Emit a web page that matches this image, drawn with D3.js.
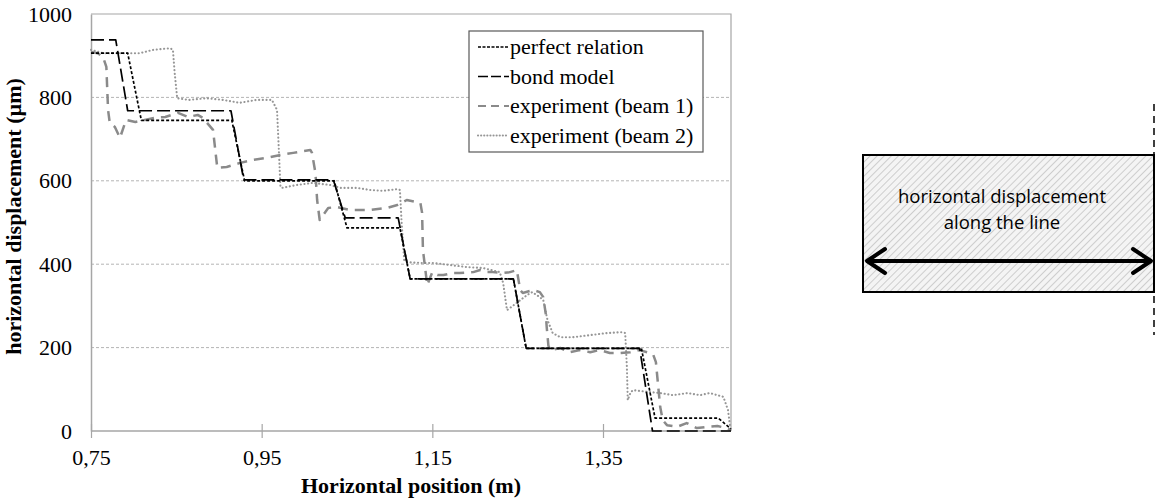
<!DOCTYPE html>
<html>
<head>
<meta charset="utf-8">
<script src="https://cdn.jsdelivr.net/npm/d3@7"></script>
<style>
  html, body { margin: 0; padding: 0; background: #fff; }
  svg { display: block; }
</style>
</head>
<body>
<svg id="chart" width="1160" height="498"></svg>
<script>
// ---------------- data ----------------
const xTicks = [0.75, 0.95, 1.15, 1.35];
const yTicks = [0, 200, 400, 600, 800, 1000];
const gridValues = [200, 400, 600, 800];

const seriesNames = ["perfect relation", "bond model", "experiment (beam 1)", "experiment (beam 2)"];

const perfectX = [0.75, 0.793, 0.809, 0.915, 0.930, 1.035, 1.050, 1.112, 1.124, 1.245, 1.260, 1.395, 1.411, 1.485, 1.500];
const perfectY = [906, 906, 745, 745, 600, 600, 487, 487, 365, 365, 198, 198, 31, 31, 5];

const bondX = [0.75, 0.779, 0.793, 0.914, 0.929, 1.034, 1.048, 1.110, 1.124, 1.245, 1.260, 1.393, 1.408, 1.500];
const bondY = [938, 938, 768, 768, 602, 602, 511, 511, 365, 365, 198, 198, 0, 0];

const beam1X = [0.75, 0.758, 0.764, 0.768, 0.770, 0.772, 0.778, 0.784, 0.791, 0.802, 0.813, 0.825, 0.837, 0.852, 0.864, 0.875, 0.881,
  0.893, 0.898, 0.909, 0.925, 0.940, 0.956, 0.972, 0.987, 1.007, 1.009, 1.013, 1.015, 1.018, 1.028, 1.038, 1.054, 1.077, 1.097,
  1.109, 1.120, 1.136, 1.138, 1.139, 1.144, 1.150, 1.156, 1.163, 1.174, 1.182, 1.198, 1.206, 1.214, 1.221, 1.233, 1.241, 1.249,
  1.253, 1.256, 1.268, 1.276, 1.280, 1.283, 1.284, 1.286, 1.288, 1.300, 1.311, 1.323, 1.335, 1.346, 1.358, 1.370, 1.382, 1.393,
  1.405, 1.409, 1.412, 1.417, 1.420, 1.425, 1.437, 1.448, 1.460, 1.472, 1.484, 1.495, 1.500];
const beam1Y = [909, 906, 897, 873, 770, 739, 729, 703, 746, 741, 746, 751, 753, 763, 753, 758, 751,
  722, 631, 633, 643, 650, 655, 662, 667, 674, 667, 619, 554, 506, 535, 537, 530, 530, 535,
  542, 554, 547, 523, 434, 350, 381, 374, 374, 379, 379, 381, 386, 381, 381, 379, 381, 386,
  338, 331, 338, 333, 321, 280, 250, 205, 194, 199, 189, 194, 189, 194, 187, 187, 189, 194,
  187, 182, 165, 58, 26, 14, 10, 19, 7, 10, 12, 7, 2];

const beam2X = [0.75, 0.764, 0.792, 0.807, 0.823, 0.843, 0.846, 0.848, 0.851, 0.865, 0.885, 0.905, 0.924, 0.944, 0.962, 0.968,
  0.970, 0.972, 0.974, 0.991, 1.010, 1.030, 1.042, 1.062, 1.077, 1.092, 1.109, 1.112, 1.114, 1.117, 1.120, 1.136, 1.151, 1.171,
  1.191, 1.209, 1.229, 1.233, 1.2375, 1.241, 1.250, 1.261, 1.267, 1.276, 1.280, 1.285, 1.291, 1.300, 1.315, 1.335, 1.355, 1.372,
  1.376, 1.378, 1.379, 1.382, 1.385, 1.402, 1.417, 1.432, 1.449, 1.464, 1.475, 1.491, 1.4965, 1.499];
const beam2Y = [914, 906, 906, 906, 914, 918, 914, 860, 798, 794, 798, 794, 787, 794, 794, 770,
  680, 585, 583, 590, 595, 590, 583, 583, 578, 576, 580, 578, 500, 410, 405, 403, 403, 398,
  393, 391, 381, 355, 290, 295, 309, 326, 333, 321, 314, 266, 235, 225, 225, 230, 235, 237,
  235, 153, 74, 91, 98, 94, 91, 86, 91, 86, 91, 82, 50, 10];

// ---------------- drawing ----------------
const svg = d3.select("#chart");
const plot = { left: 91, right: 731, top: 14, bottom: 431 };

const x = d3.scaleLinear().domain([0.75, 1.5]).range([plot.left, plot.right]);
const y = d3.scaleLinear().domain([0, 1000]).range([plot.bottom, plot.top]);

const serif = "'Liberation Serif', 'Times New Roman', serif";
const axisGray = "#a6a6a6";

// gridlines
svg.append("g").selectAll("line").data(gridValues).join("line")
  .attr("x1", plot.left).attr("x2", plot.right)
  .attr("y1", d => y(d)).attr("y2", d => y(d))
  .attr("stroke", "#b4b4b4").attr("stroke-width", 1).attr("stroke-dasharray", "3,2");

// plot border (top & right)
svg.append("path")
  .attr("d", `M${plot.left},${y(1000)}H${plot.right}V${plot.bottom}`)
  .attr("fill", "none").attr("stroke", axisGray).attr("stroke-width", 1.2);

// y axis
const yAxis = d3.axisLeft(y).tickValues(yTicks).tickSize(0).tickPadding(19).tickFormat(d3.format("d"));
const gy = svg.append("g").attr("transform", `translate(${plot.left},0)`).call(yAxis);
gy.select(".domain").attr("stroke", axisGray).attr("stroke-width", 1.5);
gy.selectAll("text").attr("font-family", serif).attr("font-size", 22).attr("fill", "#000");

// x axis
const xAxis = d3.axisBottom(x).tickValues(xTicks).tickSize(7).tickPadding(11)
  .tickFormat(d => d3.format(".2f")(d).replace(".", ","));
const gx = svg.append("g").attr("transform", `translate(0,${plot.bottom})`).call(xAxis);
gx.select(".domain").attr("stroke", axisGray).attr("stroke-width", 1.5).attr("d", `M${plot.left},0H${plot.right}`);
gx.selectAll(".tick line").attr("stroke", axisGray).attr("stroke-width", 1.2).attr("y1", -7).attr("y2", 7);
gx.selectAll("text").attr("font-family", serif).attr("font-size", 22).attr("fill", "#000");

// axis titles
svg.append("text")
  .attr("transform", `translate(21,${(plot.top + plot.bottom) / 2 - 6}) rotate(-90)`)
  .attr("text-anchor", "middle")
  .attr("font-family", serif).attr("font-weight", "bold").attr("font-size", 22)
  .text("horizontal displacement (µm)");

svg.append("text")
  .attr("x", (plot.left + plot.right) / 2).attr("y", 493)
  .attr("text-anchor", "middle")
  .attr("font-family", serif).attr("font-weight", "bold").attr("font-size", 22)
  .text("Horizontal position (m)");

// series
const styles = [
  { stroke: "#000", width: 1.7, dash: "3,2", cap: "butt" },
  { stroke: "#000", width: 1.7, dash: "13,5", cap: "butt" },
  { stroke: "#8a8a8a", width: 2.5, dash: "10,7", cap: "butt" },
  { stroke: "#969696", width: 2.1, dash: "0.1,3.6", cap: "round" }
];
const series = [
  perfectX.map((v, i) => [v, perfectY[i]]),
  bondX.map((v, i) => [v, bondY[i]]),
  beam1X.map((v, i) => [v, beam1Y[i]]),
  beam2X.map((v, i) => [v, beam2Y[i]])
];
const line = d3.line().x(d => x(d[0])).y(d => y(d[1]));
const drawOrder = [3, 2, 1, 0];
svg.append("g").selectAll("path").data(drawOrder).join("path")
  .attr("d", i => line(series[i]))
  .attr("fill", "none")
  .attr("stroke", i => styles[i].stroke)
  .attr("stroke-width", i => styles[i].width)
  .attr("stroke-dasharray", i => styles[i].dash)
  .attr("stroke-linecap", i => styles[i].cap)
  .attr("stroke-linejoin", "round");

// legend
const lg = svg.append("g");
lg.append("rect").attr("x", 469).attr("y", 31).attr("width", 234).attr("height", 121)
  .attr("fill", "#fff").attr("stroke", "#595959").attr("stroke-width", 1.2);
const rows = lg.selectAll("g.row").data(seriesNames).join("g").attr("class", "row")
  .attr("transform", (d, i) => `translate(0,${47 + i * 29.5})`);
rows.append("line").attr("x1", 478).attr("x2", 509).attr("y1", 0).attr("y2", 0)
  .attr("stroke", (d, i) => styles[i].stroke)
  .attr("stroke-width", (d, i) => i === 2 ? 2 : styles[i].width)
  .attr("stroke-dasharray", (d, i) => i === 1 ? "10,3" : i === 2 ? "8,5" : i === 3 ? "0.1,3" : "3,1.5")
  .attr("stroke-linecap", (d, i) => styles[i].cap);
rows.append("text").attr("x", 510).attr("y", 7)
  .attr("font-family", serif).attr("font-size", 22).attr("fill", "#000")
  .text(d => d);

// ---------------- illustration ----------------
const defs = svg.append("defs");
const pat = defs.append("pattern").attr("id", "hatch").attr("patternUnits", "userSpaceOnUse")
  .attr("width", 5).attr("height", 5).attr("patternTransform", "rotate(45)");
pat.append("rect").attr("width", 5).attr("height", 5).attr("fill", "#f4f4f4");
pat.append("line").attr("x1", 0).attr("y1", 0).attr("x2", 0).attr("y2", 5)
  .attr("stroke", "#c4c4c4").attr("stroke-width", 1.6);

const ill = svg.append("g");
ill.append("rect").attr("x", 863).attr("y", 155).attr("width", 291).attr("height", 137)
  .attr("fill", "url(#hatch)").attr("stroke", "#000").attr("stroke-width", 2);
ill.append("line").attr("x1", 1154).attr("x2", 1154).attr("y1", 104).attr("y2", 335)
  .attr("stroke", "#000").attr("stroke-width", 1.5).attr("stroke-dasharray", "7,5");
ill.append("line").attr("x1", 867).attr("x2", 1151).attr("y1", 261).attr("y2", 261)
  .attr("stroke", "#000").attr("stroke-width", 4);
ill.append("path").attr("d", "M885,249L867,261L885,273")
  .attr("fill", "none").attr("stroke", "#000").attr("stroke-width", 4).attr("stroke-linecap", "round").attr("stroke-linejoin", "round");
ill.append("path").attr("d", "M1133,249L1151,261L1133,273")
  .attr("fill", "none").attr("stroke", "#000").attr("stroke-width", 4).attr("stroke-linecap", "round").attr("stroke-linejoin", "round");
const sans = "'Open Sans', 'Noto Sans', sans-serif";
ill.append("text").attr("x", 1002).attr("y", 203).attr("text-anchor", "middle")
  .attr("font-family", sans).attr("font-size", 18.5).attr("fill", "#000")
  .text("horizontal displacement");
ill.append("text").attr("x", 1002).attr("y", 229).attr("text-anchor", "middle")
  .attr("font-family", sans).attr("font-size", 18.5).attr("fill", "#000")
  .text("along the line");
</script>
</body>
</html>
